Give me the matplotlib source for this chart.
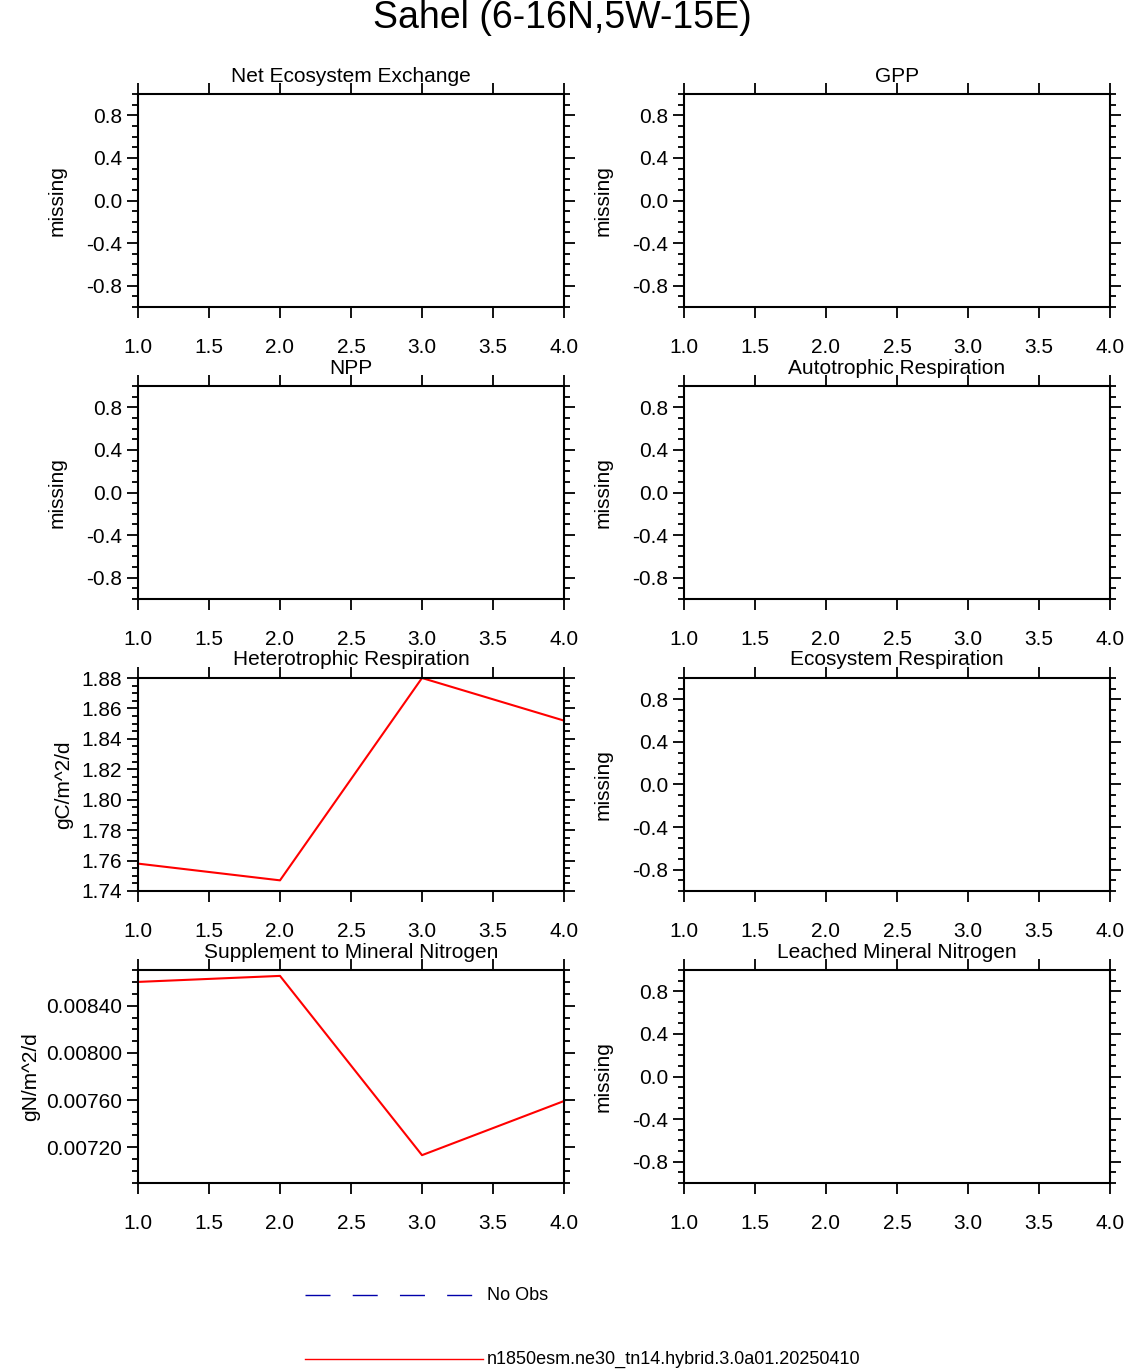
import numpy as np
import matplotlib.pyplot as plt
from matplotlib.ticker import MultipleLocator, FormatStrFormatter

plt.rcParams['font.family'] = ['Liberation Sans', 'DejaVu Sans']

years = [1, 2, 3, 4]
titles = ["Net Ecosystem Exchange", "GPP", "NPP", "Autotrophic Respiration",
          "Heterotrophic Respiration", "Ecosystem Respiration",
          "Supplement to Mineral Nitrogen", "Leached Mineral Nitrogen"]
hr_vals = [1.758, 1.747, 1.880, 1.852]
sminn_vals = [0.008602, 0.008653, 0.007133, 0.007592]
case_name = "n1850esm.ne30_tn14.hybrid.3.0a01.20250410"

W, H = 1124, 1369
fig = plt.figure(figsize=(W/100, H/100), dpi=100)
fig.text(0.5, 1 - 18/H, "Sahel (6-16N,5W-15E)", ha='center', va='center', fontsize=27)

lefts = [138, 684]
tops = [94, 386, 678, 970]
pw, ph = 426, 213

for k, title in enumerate(titles):
    r, c = divmod(k, 2)
    ax = fig.add_axes([lefts[c]/W, 1 - (tops[r]+ph)/H, pw/W, ph/H])
    ax.set_xlim(1, 4)
    ax.xaxis.set_major_locator(MultipleLocator(0.5))
    ax.xaxis.set_major_formatter(FormatStrFormatter('%.1f'))
    if k == 4:
        ax.plot(years, hr_vals, color='red', lw=1.5, clip_on=False)
        ax.set_ylim(1.74, 1.88)
        ax.yaxis.set_major_locator(MultipleLocator(0.02))
        ax.yaxis.set_minor_locator(MultipleLocator(0.005))
        ax.yaxis.set_major_formatter(FormatStrFormatter('%.2f'))
        ax.set_ylabel("gC/m^2/d", fontsize=15, labelpad=6)
    elif k == 6:
        ax.plot(years, sminn_vals, color='red', lw=1.5, clip_on=False)
        ax.set_ylim(0.006897, 0.008703)
        ax.yaxis.set_major_locator(MultipleLocator(0.0004))
        ax.yaxis.set_minor_locator(MultipleLocator(0.0001))
        ax.yaxis.set_major_formatter(FormatStrFormatter('%.5f'))
        ax.set_ylabel("gN/m^2/d", fontsize=15, labelpad=4)
    else:
        ax.set_ylim(-1, 1)
        ax.yaxis.set_major_locator(MultipleLocator(0.4))
        ax.yaxis.set_minor_locator(MultipleLocator(0.1))
        ax.yaxis.set_major_formatter(FormatStrFormatter('%.1f'))
        ax.set_ylabel("missing", fontsize=15, labelpad=14)
    ax.set_title(title, fontsize=15, pad=9)
    ax.tick_params(which='both', direction='out', top=True, right=True, labelsize=15, width=1.3)
    ax.tick_params(which='major', length=8)
    ax.tick_params(which='minor', length=4)
    ax.tick_params(axis='x', pad=14)
    for s in ax.spines.values():
        s.set_linewidth(1.5)

lax = fig.add_axes([0, 0, 1, 1])
lax.set_xlim(0, W)
lax.set_ylim(H, 0)
lax.axis('off')
lax.plot([305, 483], [1295, 1295], color='#0000aa', lw=1, dashes=(18, 16))
lax.text(487, 1295, "No Obs", va='center', fontsize=13)
lax.plot([305, 483], [1359, 1359], color='red', lw=1)
lax.text(487, 1359, case_name, va='center', fontsize=13)

fig.savefig("out.png", dpi=100)
